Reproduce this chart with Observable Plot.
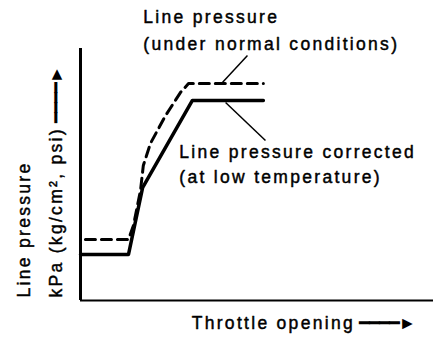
<!DOCTYPE html>
<html>
<head>
<meta charset="utf-8">
<script src="https://cdn.jsdelivr.net/npm/d3@7"></script>
<script src="https://cdn.jsdelivr.net/npm/@observablehq/plot@0.6"></script>
<style>
  html, body { margin: 0; padding: 0; background: #fff; }
</style>
</head>
<body>
<div id="chart"></div>
<script>
// Throttle opening (relative units 0-100) vs line pressure (relative units 0-100)
const corrected_throttle = [0, 13.6, 17.6, 31.7, 51.8];
const corrected_pressure = [18.3, 18.3, 44.8, 79.4, 79.4];

const normal_throttle = [1.4, 13.6, 15.0, 17.0, 17.8, 19.8, 24.1, 28.3, 30.6, 51.8];
const normal_pressure = [24.2, 24.2, 29.8, 43.7, 53.6, 62.3, 73.4, 82.5, 86.1, 86.1];

// Annotation labels
const label_texts = ["Line pressure", "(under normal conditions)", "Line pressure corrected", "(at low temperature)"];
const label_x = [17.8, 17.8, 28.0, 28.0];
const label_y = [110.3, 99.6, 56.7, 46.8];

// Leader lines [x1, y1, x2, y2]
const leader_x1 = [47.3, 41.1];
const leader_y1 = [97.2, 78.6];
const leader_x2 = [40.2, 52.4];
const leader_y2 = [86.5, 63.5];

const x_title = "Throttle opening";
const y_title_lines = ["Line pressure", "kPa (kg/cm², psi)"];
const y_title_x = [-14.2, -5.3];

const corrected = corrected_throttle.map((x, i) => ({x, y: corrected_pressure[i]}));
const normal = normal_throttle.map((x, i) => ({x, y: normal_pressure[i]}));
const labels = label_texts.map((t, i) => ({t, x: label_x[i], y: label_y[i]}));
const leaders = leader_x1.map((x1, i) => ({x1, y1: leader_y1[i], x2: leader_x2[i], y2: leader_y2[i]}));
const ytitles = y_title_lines.map((t, i) => ({t, x: y_title_x[i], y: 1.2}));

const font = "Liberation Sans, Arial, Helvetica, sans-serif";
const textStyle = {fontSize: 17.5, fill: "#000", stroke: "#000", strokeWidth: 0.45};

const chart = Plot.plot({
  width: 448,
  height: 358,
  marginLeft: 80,
  marginRight: 15,
  marginTop: 48,
  marginBottom: 58,
  style: {fontFamily: font, letterSpacing: "2.3px", background: "#fff", color: "#000"},
  x: {domain: [0, 100], axis: null},
  y: {domain: [0, 100], axis: null},
  marks: [
    Plot.ruleX([0], {stroke: "#000", strokeWidth: 3}),
    Plot.ruleY([0], {stroke: "#000", strokeWidth: 2}),
    Plot.line(normal, {x: "x", y: "y", stroke: "#000", strokeWidth: 3, strokeDasharray: "10,6", strokeLinejoin: "round"}),
    Plot.line(corrected, {x: "x", y: "y", stroke: "#000", strokeWidth: 3.5, strokeLinejoin: "round"}),
    Plot.link(leaders, {x1: "x1", y1: "y1", x2: "x2", y2: "y2", stroke: "#000", strokeWidth: 1.5}),
    Plot.text(labels, {x: "x", y: "y", text: "t", textAnchor: "start", lineAnchor: "bottom", ...textStyle}),
    Plot.text([x_title], {x: 31.5, y: 0, dy: 28, text: d => d, textAnchor: "start", lineAnchor: "bottom", ...textStyle}),
    Plot.text(ytitles, {x: "x", y: "y", text: "t", rotate: -90, textAnchor: "start", lineAnchor: "bottom", ...textStyle})
  ]
});

// Append arrows to axis titles (without letter spacing)
d3.select(chart).selectAll("text").each(function() {
  const t = this.textContent;
  if (t === x_title || t === y_title_lines[1]) {
    d3.select(this).append("tspan").attr("letter-spacing", "-1px").attr("stroke-width", 0).text(" ━━━━►");
  }
});

document.getElementById("chart").appendChild(chart);
</script>
</body>
</html>
